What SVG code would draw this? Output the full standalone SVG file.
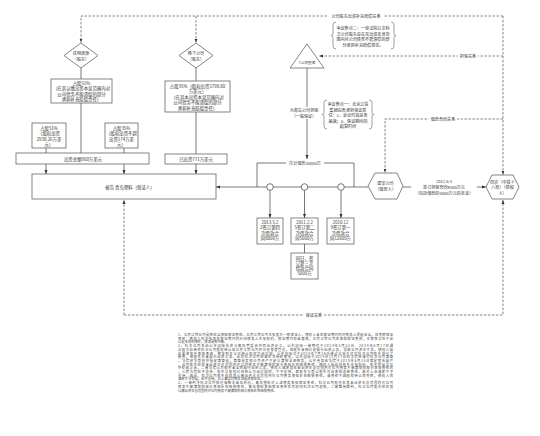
<svg xmlns="http://www.w3.org/2000/svg" width="540" height="436" viewBox="0 0 540 436">
<style>
.t{font-family:"Noto Sans CJK SC","Noto Sans",sans-serif;fill:#333;text-anchor:middle;dominant-baseline:central;font-size:4.4px}
.s{font-size:4.1px}
.f{font-family:"Noto Sans CJK SC","Noto Sans",sans-serif;fill:#444;font-size:3.3px;dominant-baseline:central}
.box{fill:#fff;stroke:#666;stroke-width:0.8}
.ln{fill:none;stroke:#555;stroke-width:0.8}
.dash{fill:none;stroke:#555;stroke-width:0.7;stroke-dasharray:2.5 1.5}
.bg{fill:#fff}
.br{fill:none;stroke:#777;stroke-width:0.7}
</style>
<defs>
<marker id="ar" viewBox="0 0 8 8" refX="8" refY="4" markerWidth="4" markerHeight="4" markerUnits="userSpaceOnUse" orient="auto">
<path d="M0,1 L8,4 L0,7 z" fill="#333"/>
</marker>
</defs>
<rect width="540" height="436" fill="#fff"/>

<g id="connectors">
<path class="dash" d="M503,16 H81 V42.5" marker-end="url(#ar)"/>
<path class="dash" d="M196,16 V42.5" marker-end="url(#ar)"/>
<path class="dash" d="M503,16 V174.5" marker-end="url(#ar)"/>
<rect class="bg" x="328" y="13.5" width="56" height="5"/>
<text class="t s" x="356" y="16">公司股东出资补充赔偿关系</text>
<path class="dash" d="M503,56 H319" marker-end="url(#ar)"/>
<rect class="bg" x="458" y="53.5" width="20" height="5"/>
<text class="t s" x="468" y="56">担保关系</text>
<path class="dash" d="M503,119 H385 V172.5" marker-end="url(#ar)"/>
<rect class="bg" x="429" y="116.5" width="28" height="5"/>
<text class="t s" x="443" y="119">借款合同关系</text>
<path class="dash" d="M124,315 V200" marker-end="url(#ar)"/>
<path class="dash" d="M124,315 H503 V200" marker-end="url(#ar)"/>
<rect class="bg" x="304" y="312.5" width="20" height="5"/>
<text class="t s" x="314" y="315">保证关系</text>

<path class="ln" d="M81,68 V79 M81,103 V153"/>
<path class="ln" d="M46,148 V153 M124,148 V153"/>
<path class="ln" d="M46,164 V174" marker-end="url(#ar)"/>
<path class="ln" d="M124,164 V174" marker-end="url(#ar)"/>
<path class="ln" d="M196,68 V81 M196,112 V154"/>
<path class="ln" d="M196,164 V174" marker-end="url(#ar)"/>
<path class="ln" d="M307,68 V159" marker-end="url(#ar)"/>
<rect class="bg" x="290" y="107" width="28" height="12"/>
<text class="t s" x="304" y="110">为青岛公司担保</text>
<text class="t s" x="304" y="116">（一般保证）</text>
<path class="ln" d="M257,187 V163 H354 V187"/>
<rect class="bg" x="286" y="160.5" width="38" height="5"/>
<text class="t s" x="305" y="163">共计借款30000万</text>
<path class="ln" d="M368,187 H216" marker-end="url(#ar)"/>
<circle cx="270" cy="187" r="3.3" fill="#fff" stroke="#555" stroke-width="0.8"/>
<circle cx="304.5" cy="187" r="3.3" fill="#fff" stroke="#555" stroke-width="0.8"/>
<circle cx="341" cy="187" r="3.3" fill="#fff" stroke="#555" stroke-width="0.8"/>
<path class="ln" d="M270,190.3 V218" marker-end="url(#ar)"/>
<path class="ln" d="M304.5,190.3 V218" marker-end="url(#ar)"/>
<path class="ln" d="M341,190.3 V218" marker-end="url(#ar)"/>
<path class="ln" d="M304.5,244 V253"/>
<path class="ln" d="M403,187 H486" marker-end="url(#ar)"/>
<rect class="bg" x="411" y="177" width="66" height="19"/>
<text class="t s" x="444" y="180.5">2012.6.5</text>
<text class="t s" x="444" y="186.5">签订担保合同9300万元</text>
<text class="t s" x="444" y="192.5">（包括借款的5000万元的本金）</text>
</g>

<g id="n-renming">
<polygon class="box" points="81,43 98,55.5 81,68 64,55.5"/>
<text class="t s" x="81" y="53">任明旗源</text>
<text class="t s" x="81" y="59">（股东）</text>
</g>
<g id="n-yangxia">
<polygon class="box" points="196,43 213,55.5 196,68 179,55.5"/>
<text class="t s" x="196" y="53">杨下公司</text>
<text class="t s" x="196" y="59">（股东）</text>
</g>
<g id="n-box1">
<rect class="box" x="51" y="79" width="61" height="24"/>
<text class="t" x="81.5" y="82.8">占股51%</text>
<text class="t" x="81.5" y="88.3">（在其认缴出资本息范围内对</text>
<text class="t" x="81.5" y="93.8">公司债务不能清偿的部分</text>
<text class="t" x="81.5" y="99.3">承担补充赔偿责任）</text>
</g>
<g id="n-box2">
<rect class="box" x="165" y="81" width="65" height="31"/>
<text class="t" x="197.5" y="85.5">占股35%（股权出资1798.80</text>
<text class="t" x="197.5" y="91">万美元）</text>
<text class="t" x="197.5" y="96.5">（在其本出资本息范围内对</text>
<text class="t" x="197.5" y="102">公司债务不能清偿的部分</text>
<text class="t" x="197.5" y="107.5">承担补充赔偿责任）</text>
</g>
<g id="n-small1">
<rect class="box" x="32" y="123" width="34" height="25"/>
<text class="t" x="49" y="127.5">占股51%</text>
<text class="t" x="49" y="133">（股权出资</text>
<text class="t" x="49" y="138.5">2938.26万美</text>
<text class="t" x="49" y="144">元）</text>
</g>
<g id="n-small2">
<rect class="box" x="105" y="123" width="33" height="25"/>
<text class="t" x="121.5" y="127.5">占股35%</text>
<text class="t" x="121.5" y="133">（股权出资不超</text>
<text class="t" x="121.5" y="138.5">出资174万美</text>
<text class="t" x="121.5" y="144">元）</text>
</g>
<g id="n-capital">
<rect class="box" x="16" y="153" width="133" height="11"/>
<text class="t" x="83" y="158.5">出资金额900万美元</text>
</g>
<g id="n-paid">
<rect class="box" x="165" y="154" width="62" height="10"/>
<text class="t" x="196" y="159">已出资771万美元</text>
</g>
<g id="n-guarantor">
<rect class="box" x="32" y="174" width="184" height="25"/>
<text class="t" x="130" y="187">被告  青岛塑料（保证人）</text>
</g>
<g id="n-tcompany">
<polygon class="box" points="307,44 324,68 290,68"/>
<text class="t" style="font-size:3.6px" x="307" y="62">T公司担保</text>
</g>
<g id="n-note2">
<path class="br" d="M336,22 Q333,22 333,25 L333,33.5 Q333,35.5 331,35.5 Q333,35.5 333,37.5 L333,46 Q333,49 336,49"/>
<path class="br" d="M391,22 Q394,22 394,25 L394,33.5 Q394,35.5 396,35.5 Q394,35.5 394,37.5 L394,46 Q394,49 391,49"/>
<text class="t s" x="363" y="28">争议焦点二：一审法院认定科</text>
<text class="t s" x="363" y="33.5">卫公司股东应在其出资本息范</text>
<text class="t s" x="363" y="39">围内对公司债务不能清偿的部</text>
<text class="t s" x="363" y="44.5">分承担补充赔偿责任。</text>
</g>
<g id="n-note1">
<path class="br" d="M327,100 Q324,100 324,103 L324,112.5 Q324,114.5 322,114.5 Q324,114.5 324,116.5 L324,126 Q324,129 327,129"/>
<path class="br" d="M369,100 Q372,100 372,103 L372,112.5 Q372,114.5 374,114.5 Q372,114.5 372,116.5 L372,126 Q372,129 369,129"/>
<text class="t s" x="348" y="104">争议焦点一：北京江铁</text>
<text class="t s" x="348" y="109.5">集团应否承担保证责</text>
<text class="t s" x="348" y="115">任：1、诉讼时效是否</text>
<text class="t s" x="348" y="120.5">届满；2、保证期间的</text>
<text class="t s" x="348" y="126">起算时间</text>
</g>
<g id="n-borrower">
<polygon class="box" points="368,186 375,173 397,173 403,186 397,199 375,199"/>
<text class="t s" x="385.5" y="183">建安公司</text>
<text class="t s" x="385.5" y="189">（借款人）</text>
</g>
<g id="n-creditor">
<polygon class="box" points="486,187 492,175 513,175 519,187 513,199 492,199"/>
<text class="t s" x="502.5" y="181.5">四会（中铁十</text>
<text class="t s" x="502.5" y="187">八局）（债权</text>
<text class="t s" x="502.5" y="192.5">人）</text>
</g>
<g id="n-loan4">
<rect class="box" x="257" y="218" width="26" height="26"/>
<text class="t" x="270" y="222">2013.5.2</text>
<text class="t" x="270" y="227.3">2签订第四</text>
<text class="t" x="270" y="232.6">次借款合</text>
<text class="t" x="270" y="237.9">同8000万</text>
</g>
<g id="n-loan2">
<rect class="box" x="291" y="218" width="27" height="26"/>
<text class="t" x="304.5" y="222">2011.2.2</text>
<text class="t" x="304.5" y="227.3">5签订第二</text>
<text class="t" x="304.5" y="232.6">次借款合</text>
<text class="t" x="304.5" y="237.9">同5000万</text>
</g>
<g id="n-loan1">
<rect class="box" x="327" y="218" width="27" height="26"/>
<text class="t" x="340.5" y="222">2010.12</text>
<text class="t" x="340.5" y="227.3">9签订第一</text>
<text class="t" x="340.5" y="232.6">次借款合</text>
<text class="t" x="340.5" y="237.9">同12000万</text>
</g>
<g id="n-loan3">
<rect class="box" x="291" y="253" width="27" height="26"/>
<text class="t" x="304.5" y="257.5">同日，签</text>
<text class="t" x="304.5" y="262.8">订第三次</text>
<text class="t" x="304.5" y="268.1">借款合同</text>
<text class="t" x="304.5" y="273.4">5000万</text>
</g>

<g id="footnotes">
<text class="f" x="178" y="334.5" textLength="215" lengthAdjust="spacing">1、北京江铁公司是否应当承担保证责任。北京江铁公司主张其为一般保证人，债权人未在保证期间内对债务人提起诉讼，应免除保证</text>
<text class="f" x="178" y="338.2" textLength="215" lengthAdjust="spacing">责任；债权人则主张其在保证期间内已向债务人主张权利，保证期间尚未届满，北京江铁公司应承担保证责任，本案争议在于此</text>
<text class="f" x="178" y="341.9">认定无效的情形，保证是否中断。</text>
<text class="f" x="178" y="345.6" textLength="215" lengthAdjust="spacing">2、科卫公司系由山东国际投资与青岛管委会共同出资设立，山东国际一审期间于2014年5月22日、2014年6月17日通</text>
<text class="f" x="178" y="349.3" textLength="215" lengthAdjust="spacing">过双方协商将科卫公司股权转让给北京江铁公司并办理变更登记，但股东未按约定履行出资义务，导致公司资本不实，债权人据</text>
<text class="f" x="178" y="353" textLength="215" lengthAdjust="spacing">此要求股东承担责任，相关股东以已转让股权为由抗辩，山东国际又于2014年7月16日通过公告方式对科卫公司股东进行了</text>
<text class="f" x="178" y="356.7" textLength="215" lengthAdjust="spacing">催告，但股东仍未履行出资义务，此后科卫公司经营状况持续恶化，山东国际于2014年11月17日向法院申请对科卫公司清算</text>
<text class="f" x="178" y="360.4" textLength="215" lengthAdjust="spacing">，法院依法受理并指定清算组，清算组发现公司资产不足以清偿全部债务，山东省高级法院于2015年6月25日裁定宣告破产</text>
<text class="f" x="178" y="364.1" textLength="215" lengthAdjust="spacing">，公司股东应在未出资本息范围内对公司债务不能清偿的部分承担补充赔偿责任，债权人据此向股东主张权利，股东提出异议</text>
<text class="f" x="178" y="367.8" textLength="215" lengthAdjust="spacing">并提起上诉，二审法院认为股东未全面履行出资义务，债权人请求其在未出资本息范围内对公司债务不能清偿的部分承担责任的</text>
<text class="f" x="178" y="371.5" textLength="215" lengthAdjust="spacing">，人民法院应予支持，股东以股权已经转让为由抗辩的，不予支持，原股东与受让股东对此承担连带责任，故对上诉请求不予</text>
<text class="f" x="178" y="375.2" textLength="215" lengthAdjust="spacing">支持，因此，科卫公司股东应在其认缴出资本息范围内对公司债务承担补充赔偿责任，该责任不因股权转让而免除，债权人的</text>
<text class="f" x="178" y="378.9">请求于法有据，应予支持，以上事实有相关证据在案佐证。</text>
<text class="f" x="178" y="382.6" textLength="215" lengthAdjust="spacing">3、一审判决科卫公司偿还借款本金及利息，青岛塑料对上述债务承担保证责任，科卫公司股东在其未出资本息范围内对公司</text>
<text class="f" x="178" y="386.3" textLength="215" lengthAdjust="spacing">债务不能清偿的部分承担补充赔偿责任，青岛塑料承担保证责任后有权向科卫公司追偿，二审维持原判，科卫公司股东应在其</text>
<text class="f" x="178" y="390">认缴出资本息范围内对公司债务不能清偿的部分承担补充赔偿责任。</text>
</g>
</svg>
